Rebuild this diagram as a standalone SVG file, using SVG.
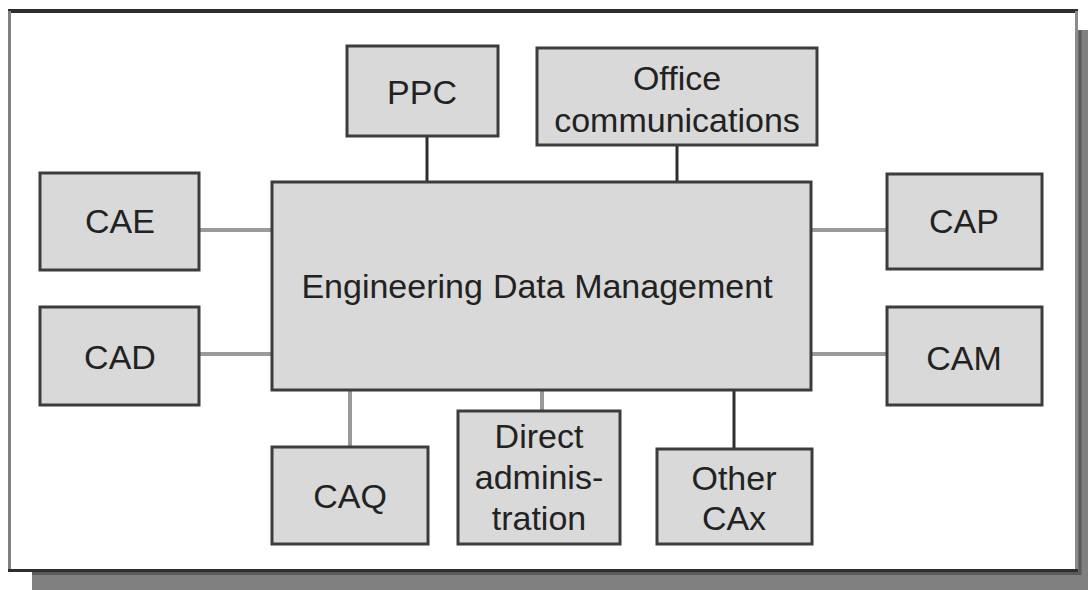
<svg xmlns="http://www.w3.org/2000/svg" width="1088" height="590" viewBox="0 0 1088 590">
<style>
.box{fill:#d9d9d9;stroke:#3c3c3c;stroke-width:3}
.t{font-family:"Liberation Sans",Arial,sans-serif;font-size:34px;fill:#222;text-anchor:middle}
.cg{stroke:#9a9a9a;stroke-width:4;fill:none}
.cd{stroke:#2e2e2e;stroke-width:3;fill:none}
</style>
<rect width="1088" height="590" fill="#ffffff"/>
<g id="frame">
<rect x="32" y="30" width="1060" height="565" fill="#808080"/>
<line x1="1080" y1="30" x2="1080" y2="575" stroke="#5a5a5a" stroke-width="3"/>
<line x1="32" y1="573.5" x2="1080" y2="573.5" stroke="#5a5a5a" stroke-width="3"/>
<rect x="10" y="11" width="1067" height="560" fill="#ffffff"/>
<line x1="8" y1="11" x2="1078" y2="11" stroke="#2e2e2e" stroke-width="4"/>
<line x1="9.5" y1="11" x2="9.5" y2="572" stroke="#808080" stroke-width="3"/>
<line x1="1076.5" y1="11" x2="1076.5" y2="572" stroke="#8a8a8a" stroke-width="3"/>
<line x1="8" y1="570.5" x2="1078" y2="570.5" stroke="#2e2e2e" stroke-width="3"/>
</g>
<g id="connectors">
<line class="cd" x1="427" y1="136" x2="427" y2="182"/>
<line class="cd" x1="677" y1="145" x2="677" y2="182"/>
<line class="cg" x1="199" y1="230" x2="272" y2="230"/>
<line class="cg" x1="199" y1="354" x2="272" y2="354"/>
<line class="cg" x1="811" y1="230" x2="887" y2="230"/>
<line class="cg" x1="811" y1="354" x2="887" y2="354"/>
<line class="cg" x1="350" y1="390" x2="350" y2="447"/>
<line class="cg" x1="542" y1="390" x2="542" y2="411"/>
<line class="cd" x1="734" y1="390" x2="734" y2="449"/>
</g>
<g id="edm">
<rect class="box" x="272" y="182" width="539" height="208"/>
<text class="t" x="537" y="298" font-size="35">Engineering<tspan dx="10">Data Management</tspan></text>
</g>
<g id="ppc">
<rect class="box" x="347" y="46" width="151" height="90"/>
<text class="t" x="422" y="104">PPC</text>
</g>
<g id="office">
<rect class="box" x="537" y="48" width="280" height="97"/>
<text class="t" x="677" y="90">Office</text>
<text class="t" x="677" y="132">communications</text>
</g>
<g id="cae">
<rect class="box" x="40" y="173" width="159" height="97"/>
<text class="t" x="120" y="233">CAE</text>
</g>
<g id="cad">
<rect class="box" x="40" y="307" width="159" height="98"/>
<text class="t" x="120" y="369">CAD</text>
</g>
<g id="cap">
<rect class="box" x="887" y="174" width="155" height="95"/>
<text class="t" x="964" y="233">CAP</text>
</g>
<g id="cam">
<rect class="box" x="887" y="307" width="155" height="98"/>
<text class="t" x="964" y="370">CAM</text>
</g>
<g id="caq">
<rect class="box" x="272" y="447" width="156" height="97"/>
<text class="t" x="350" y="508">CAQ</text>
</g>
<g id="direct">
<rect class="box" x="458" y="411" width="162" height="133"/>
<text class="t" x="539" y="448">Direct</text>
<text class="t" x="539" y="489">adminis-</text>
<text class="t" x="539" y="530">tration</text>
</g>
<g id="other">
<rect class="box" x="657" y="449" width="155" height="95"/>
<text class="t" x="734" y="490">Other</text>
<text class="t" x="734" y="530">CAx</text>
</g>
</svg>
